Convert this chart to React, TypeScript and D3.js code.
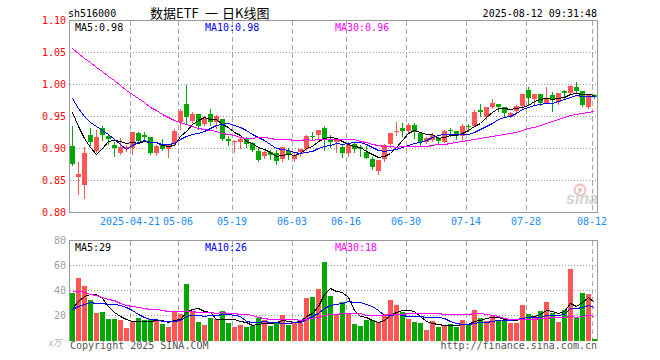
import React from 'react';
import * as d3 from 'd3';

const opens = [0.903,0.854,0.842,0.920,0.895,0.931,0.919,0.905,0.892,0.899,0.900,0.923,0.920,0.917,0.892,0.906,0.898,0.908,0.941,0.969,0.942,0.953,0.938,0.953,0.941,0.945,0.914,0.909,0.909,0.916,0.908,0.895,0.888,0.894,0.892,0.883,0.895,0.883,0.894,0.898,0.919,0.920,0.931,0.913,0.909,0.902,0.892,0.906,0.902,0.894,0.883,0.864,0.883,0.906,0.925,0.931,0.927,0.936,0.923,0.909,0.912,0.916,0.909,0.928,0.927,0.919,0.934,0.934,0.959,0.948,0.964,0.969,0.964,0.948,0.958,0.966,0.991,0.977,0.984,0.970,0.983,0.972,0.989,0.986,0.995,0.989,0.964,0.983];
const closes = [0.875,0.860,0.892,0.910,0.917,0.920,0.914,0.900,0.902,0.902,0.925,0.911,0.917,0.892,0.903,0.898,0.905,0.927,0.958,0.948,0.953,0.934,0.947,0.941,0.950,0.914,0.911,0.911,0.914,0.906,0.897,0.881,0.894,0.889,0.880,0.902,0.889,0.889,0.898,0.919,0.918,0.928,0.913,0.909,0.913,0.892,0.905,0.898,0.898,0.884,0.870,0.881,0.905,0.923,0.927,0.927,0.936,0.925,0.909,0.916,0.920,0.911,0.927,0.927,0.919,0.934,0.933,0.956,0.956,0.964,0.970,0.964,0.955,0.955,0.966,0.984,0.978,0.984,0.970,0.978,0.975,0.986,0.986,0.997,0.989,0.967,0.983,0.980];
const highs = [0.935,0.878,0.901,0.932,0.928,0.935,0.921,0.910,0.916,0.905,0.925,0.925,0.925,0.917,0.905,0.914,0.905,0.930,0.961,0.998,0.956,0.953,0.950,0.961,0.952,0.945,0.919,0.913,0.917,0.917,0.909,0.900,0.895,0.897,0.897,0.902,0.900,0.894,0.898,0.920,0.925,0.928,0.934,0.920,0.914,0.906,0.909,0.909,0.905,0.903,0.886,0.881,0.906,0.923,0.941,0.939,0.939,0.939,0.923,0.917,0.923,0.917,0.928,0.931,0.927,0.938,0.938,0.959,0.969,0.964,0.976,0.969,0.964,0.956,0.967,0.984,0.995,0.984,0.984,0.995,0.988,0.986,0.991,0.998,1.003,0.989,0.983,0.984];
const lows = [0.873,0.828,0.822,0.905,0.893,0.912,0.907,0.888,0.891,0.895,0.891,0.909,0.912,0.891,0.889,0.897,0.886,0.904,0.930,0.938,0.941,0.930,0.936,0.936,0.932,0.913,0.905,0.894,0.900,0.902,0.895,0.880,0.884,0.883,0.875,0.880,0.883,0.880,0.888,0.897,0.913,0.914,0.897,0.902,0.894,0.886,0.888,0.894,0.888,0.884,0.867,0.859,0.880,0.902,0.920,0.919,0.925,0.916,0.905,0.908,0.911,0.908,0.909,0.919,0.914,0.913,0.927,0.934,0.950,0.946,0.962,0.958,0.948,0.948,0.956,0.963,0.969,0.967,0.967,0.970,0.958,0.969,0.977,0.984,0.988,0.966,0.963,0.978];
const volumes = [38,49.3,42.9,32.2,21.8,22.6,17,17,16.2,9.8,14.6,17.8,16.2,17,16.2,13,10.6,23.2,21,44.5,23.4,14.6,12.2,17.8,17,23.4,13.8,10.2,12.2,10.6,11.4,17.8,16.2,11.4,14.6,20.2,12.2,14.6,13.8,33.8,34.6,41,62.6,35.4,20.6,30.6,21.8,13,11.4,16.2,16.2,14.6,20.6,32.2,28.2,22.6,17,14.6,13.8,8.2,15.4,10.6,12.2,13,10.2,16.2,13,24.2,17.8,15.4,20.2,16.2,16.2,13.8,13.8,28.2,20.6,19,23.4,30.6,21.8,14.6,24.2,57,17.8,37.8,37,0.8];

// sessions before the first visible candle, estimated from where the MA lines start
const priorCloses = [1.10,1.12,1.13,1.14,1.13,1.12,1.11,1.12,1.13,1.13,1.11,1.10,1.09,1.08,1.07,1.06,1.06,1.05,1.04,1.04,1.02,1.01,1.00,0.99,0.98,0.97,0.982,0.982,0.971];
const priorVolumes = [55,62,70,58,65,60,52,68,60,56,40,35,30,34,28,32,30,29,31,27,26,24,22,25,21,24,22,25,21];

const tickIdx = [10,18,27,37,46,56,66,76,87];
const tickLabels = ['2025-04-21','05-06','05-19','06-03','06-16','06-30','07-14','07-28','08-12'];
const priceTicks = [0.8,0.85,0.9,0.95,1.0,1.05,1.1];
const volTicks = [20,40,60,80];

const RED = '#ff5555';
const GREEN = '#00a800';
const MONO = '"DejaVu Sans Mono", "Liberation Mono", monospace';
const CJK = '"Noto Sans CJK SC", sans-serif';

function movingAvg(prior: number[], vals: number[], n: number) {
  const all = prior.concat(vals);
  return vals.map((_, i) => {
    const end = prior.length + i;
    return d3.mean(all.slice(end - n + 1, end + 1)) as number;
  });
}

export default function App() {
  const n = closes.length;
  const x = d3.scaleLinear().domain([0, n]).range([70, 598]);
  const yP = d3.scaleLinear().domain([0.8, 1.1]).range([212, 20]);
  const yV = d3.scaleLinear().domain([0, 80]).range([340, 240]);
  const step = x(1) - x(0);

  const maP = [5, 10, 30].map((k) => movingAvg(priorCloses, closes, k));
  const maV = [5, 10, 30].map((k) => movingAvg(priorVolumes, volumes, k));
  const maColors = ['#000000', '#0000ff', '#ff00ff'];

  const lineP = d3.line<number>().x((_, i) => x(i) + 2.5).y((d) => Math.round(yP(d)) + 0.5);
  const lineV = d3.line<number>().x((_, i) => x(i) + 2.5).y((d) => Math.round(yV(d)) + 0.5);

  return (
    <svg width={660} height={360} style={{ position: 'absolute', left: 0, top: 0, background: '#fff' }}>
      <rect x={0} y={0} width={660} height={360} fill="#fff" />
      {/* header */}
      <text x={68} y={17} fontFamily={MONO} fontSize={10} fill="#000">sh516000</text>
      <text x={150} y={18} fontFamily={CJK} fontSize={13} fill="#000">数据ETF</text>
      <text x={205} y={18} fontFamily={CJK} fontSize={13} fill="#000">一</text>
      <text x={222} y={18} fontFamily={CJK} fontSize={13} fill="#000">日K线图</text>
      <text x={597} y={17} fontFamily={MONO} fontSize={10} fill="#000" textAnchor="end">2025-08-12 09:31:48</text>

      {/* price grid */}
      {priceTicks.slice(1, -1).map((t) => (
        <line key={'pg' + t} x1={70} x2={597} y1={Math.round(yP(t)) + 0.5} y2={Math.round(yP(t)) + 0.5}
          stroke="#999" strokeDasharray="1,2" shapeRendering="crispEdges" />
      ))}
      {tickIdx.map((ti) => (
        <g key={'vg' + ti}>
          <line x1={x(ti) + 0.5} x2={x(ti) + 0.5} y1={21} y2={212} stroke="#aaa" strokeDasharray="5,3" shapeRendering="crispEdges" />
          <line x1={x(ti) + 0.5} x2={x(ti) + 0.5} y1={241} y2={340} stroke="#aaa" strokeDasharray="5,3" shapeRendering="crispEdges" />
        </g>
      ))}
      {priceTicks.map((t) => (
        <text key={'pl' + t} x={66} y={yP(t) + 3.5} fontFamily={MONO} fontSize={10} fill="#f00" textAnchor="end">{t.toFixed(2)}</text>
      ))}
      {tickIdx.map((ti, k) => (
        <text key={'xl' + ti} x={x(ti)} y={225} fontFamily={MONO} fontSize={10} fill="#1a8cff" textAnchor="middle">{tickLabels[k]}</text>
      ))}

      {/* sina watermark */}
      <g opacity={0.55}>
        <circle cx={580} cy={190} r={5.5} fill="none" stroke="#e08a8a" strokeWidth={2} />
        <circle cx={580} cy={190} r={2} fill="#e08a8a" />
        <text x={566} y={204} fontFamily="Liberation Sans, sans-serif" fontStyle="italic" fontWeight="bold" fontSize={16} fill="#b0b0b0">sina</text>
      </g>

      {/* candles */}
      {closes.map((c, i) => {
        const o = opens[i];
        const up = c >= o;
        const col = up ? RED : GREEN;
        const top = Math.round(yP(Math.max(o, c)));
        const bot = Math.round(yP(Math.min(o, c)));
        return (
          <g key={'c' + i} shapeRendering="crispEdges">
            <line x1={x(i) + 2.5} x2={x(i) + 2.5} y1={Math.round(yP(highs[i]))} y2={Math.round(yP(lows[i])) + 1} stroke={col} />
            <rect x={x(i)} y={top} width={step - 1} height={Math.max(1, bot - top)} fill={col} />
          </g>
        );
      })}
      {maP.map((m, k) => (
        <path key={'map' + k} d={lineP(m) as string} fill="none" stroke={maColors[k]} strokeWidth={1} shapeRendering="crispEdges" />
      ))}

      {/* price box */}
      <rect x={69.5} y={20.5} width={528} height={192} fill="none" stroke="#999" shapeRendering="crispEdges" />
      <text x={75} y={31} fontFamily={MONO} fontSize={10} fill="#000">MA5:0.98</text>
      <text x={205} y={31} fontFamily={MONO} fontSize={10} fill="#0000ff">MA10:0.98</text>
      <text x={335} y={31} fontFamily={MONO} fontSize={10} fill="#ff00ff">MA30:0.96</text>

      {/* volume panel */}
      {volTicks.slice(0, -1).map((t) => (
        <line key={'vgl' + t} x1={70} x2={597} y1={Math.round(yV(t)) + 0.5} y2={Math.round(yV(t)) + 0.5}
          stroke="#999" strokeDasharray="1,2" shapeRendering="crispEdges" />
      ))}
      {volTicks.map((t) => (
        <text key={'vl' + t} x={66} y={yV(t) + 3.5} fontFamily={MONO} fontSize={10} fill="#a0a0a0" textAnchor="end">{t}</text>
      ))}
      <text x={48} y={346} fontFamily={CJK} fontStyle="italic" fontSize={9} fill="#b0b0b0">x万</text>
      {volumes.map((v, i) => {
        const up = closes[i] >= opens[i];
        const top = Math.round(yV(v));
        return (
          <rect key={'v' + i} x={x(i)} y={top} width={step - 1} height={Math.max(1, 341 - top)} fill={up ? RED : GREEN} shapeRendering="crispEdges" />
        );
      })}
      {maV.map((m, k) => (
        <path key={'mav' + k} d={lineV(m) as string} fill="none" stroke={maColors[k]} strokeWidth={1} shapeRendering="crispEdges" />
      ))}
      <path d="M69.5,341 V240.5 H597.5 V341" fill="none" stroke="#999" shapeRendering="crispEdges" />
      <text x={75} y={251} fontFamily={MONO} fontSize={10} fill="#000">MA5:29</text>
      <text x={205} y={251} fontFamily={MONO} fontSize={10} fill="#0000ff">MA10:26</text>
      <text x={335} y={251} fontFamily={MONO} fontSize={10} fill="#ff00ff">MA30:18</text>

      <text x={70} y={349} fontFamily={MONO} fontSize={10} fill="#555">Copyright 2025 SINA.COM</text>
      <text x={597} y={349} fontFamily={MONO} fontSize={10} fill="#555" textAnchor="end">http://finance.sina.com.cn</text>
    </svg>
  );
}
